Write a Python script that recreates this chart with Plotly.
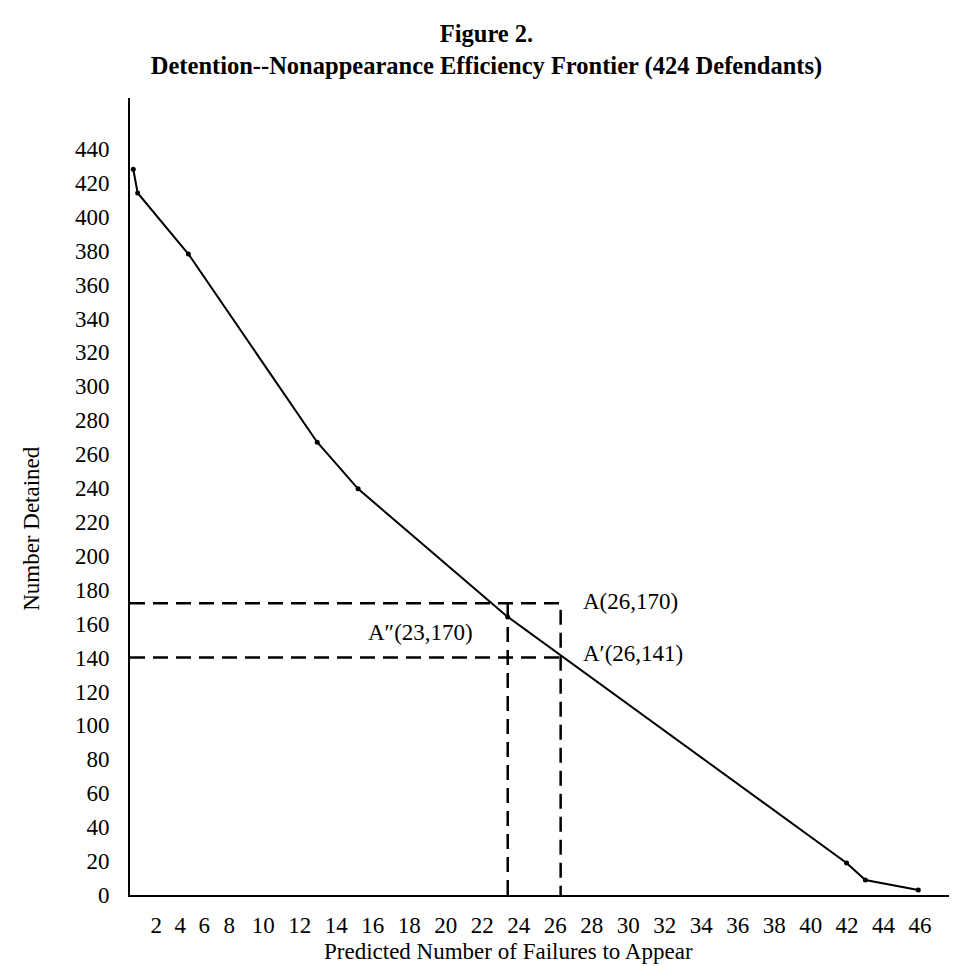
import plotly.graph_objects as go

# ---- data ----
frontier_x = [2.88, 3.12, 5.90, 12.96, 15.20, 23.40, 41.97, 43.00, 45.90]
frontier_y = [428, 414, 378, 267, 239.5, 164, 18.9, 8.8, 3]

point_A_x, point_A_y = 26.3, 172      # A(26,170)
point_A1_x, point_A1_y = 26.3, 140    # A'(26,141)
point_A2_x, point_A2_y = 23.4, 172    # A''(23,170)

x_tick_labels = ["2", "4", "6", "8", "10", "12", "14", "16", "18", "20", "22", "24",
                 "26", "28", "30", "32", "34", "36", "38", "40", "42", "44", "46"]
x_tick_vals = [4.14, 5.45, 6.77, 8.14, 10, 12, 14, 16, 18, 20, 22, 24,
               26, 28, 30, 32, 34, 36, 38, 40, 42, 44, 46]
y_tick_vals = list(range(0, 441, 20))

X_MIN, X_MAX = 2.70, 48.46
Y_MIN, Y_MAX = 0, 470

FONT = "Liberation Serif"
dash = "15px,8px"

fig = go.Figure()

# dashed guide lines
fig.add_trace(go.Scatter(x=[X_MIN, point_A_x, point_A_x], y=[point_A_y, point_A_y, 0],
                         mode="lines", line=dict(color="black", width=2.5, dash=dash),
                         hoverinfo="skip", showlegend=False, cliponaxis=False))
fig.add_trace(go.Scatter(x=[X_MIN, point_A1_x], y=[point_A1_y, point_A1_y],
                         mode="lines", line=dict(color="black", width=2.5, dash=dash),
                         hoverinfo="skip", showlegend=False, cliponaxis=False))
fig.add_trace(go.Scatter(x=[point_A2_x, point_A2_x], y=[0, point_A2_y],
                         mode="lines", line=dict(color="black", width=2.5, dash=dash),
                         hoverinfo="skip", showlegend=False, cliponaxis=False))

# frontier
fig.add_trace(go.Scatter(x=frontier_x, y=frontier_y, mode="lines+markers",
                         line=dict(color="black", width=2),
                         marker=dict(color="black", size=5),
                         showlegend=False, cliponaxis=False))

ann_font = dict(family=FONT, size=23, color="black")
fig.add_annotation(x=27.42, y=172.9, text="A(26,170)", showarrow=False,
                   xanchor="left", yanchor="middle", font=ann_font)
fig.add_annotation(x=27.42, y=142.2, text="A\u2032(26,141)", showarrow=False,
                   xanchor="left", yanchor="middle", font=ann_font)
fig.add_annotation(x=21.62, y=154.6, text="A\u2033(23,170)", showarrow=False,
                   xanchor="right", yanchor="middle", font=ann_font)

# axis titles
fig.add_annotation(xref="paper", yref="paper", x=0.453, y=-0.071,
                   text="Predicted Number of Failures to Appear", showarrow=False,
                   xanchor="center", yanchor="middle", font=ann_font)
fig.add_annotation(xref="paper", yref="paper", x=-0.118, y=0.46,
                   text="Number Detained", showarrow=False, textangle=-90,
                   xanchor="center", yanchor="middle", font=ann_font)

fig.update_layout(
    width=957, height=966,
    margin=dict(l=122, r=0, t=90, b=79),
    paper_bgcolor="white", plot_bgcolor="white",
    font=dict(family=FONT, size=23, color="black"),
    title=dict(text="<b>Figure 2.</b><br><b>Detention--Nonappearance Efficiency Frontier (424 Defendants)</b>",
               x=0.5, xanchor="center", xref="container",
               y=1 - 34 / 966, yanchor="middle", yref="container",
               font=dict(family=FONT, size=24.5, color="black")),
    xaxis=dict(range=[X_MIN, X_MAX], showgrid=False, zeroline=False,
               showline=True, linecolor="black", linewidth=2,
               tickmode="array", tickvals=x_tick_vals, ticktext=x_tick_labels,
               ticks="", ticklabelstandoff=8,
               tickfont=dict(family=FONT, size=23, color="black")),
    yaxis=dict(range=[Y_MIN, Y_MAX], showgrid=False, zeroline=False,
               showline=True, linecolor="black", linewidth=2,
               tickmode="array", tickvals=y_tick_vals,
               ticks="", ticklabelstandoff=14,
               tickfont=dict(family=FONT, size=23, color="black")),
)

fig.write_html("out.html")
